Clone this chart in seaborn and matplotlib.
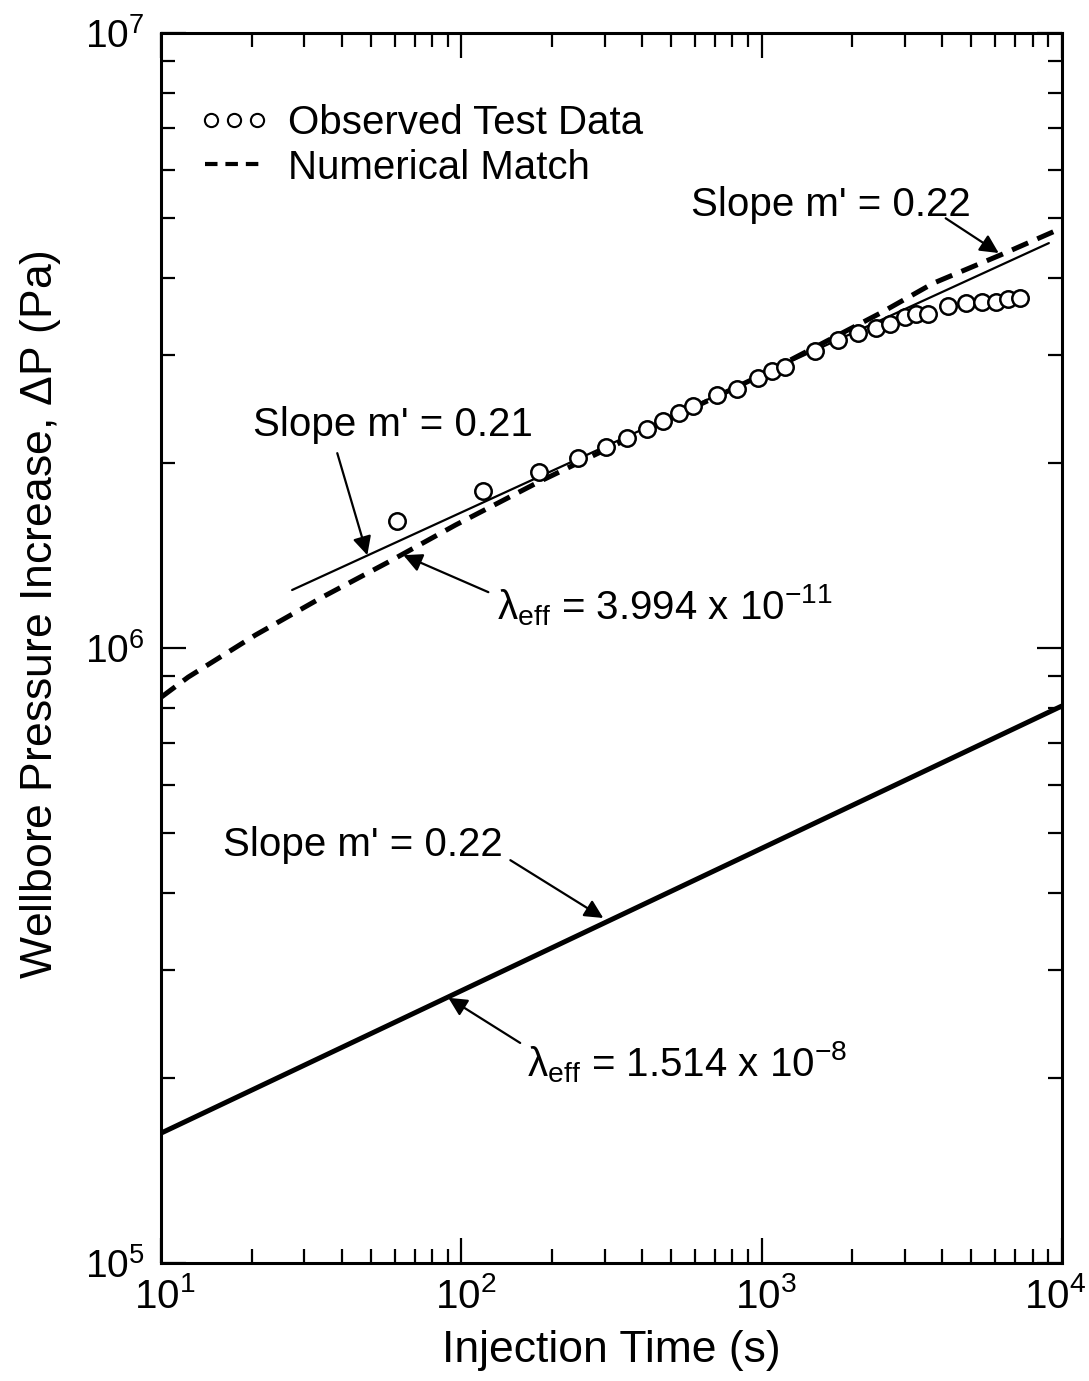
import numpy as np
import pandas as pd
import seaborn as sns
import matplotlib.pyplot as plt
import matplotlib.transforms as mtransforms
from matplotlib.lines import Line2D
from matplotlib.legend_handler import HandlerLine2D
from matplotlib.ticker import LogLocator, NullFormatter

# Observed test data: injection time (s) vs wellbore pressure increase (Pa)
obs_time = [61, 118, 181, 245, 304, 357, 414, 471, 529, 589, 708, 826, 970, 1080, 1193,
            1502, 1792, 2089, 2399, 2671, 2997, 3260, 3575, 4169, 4786, 5412, 6026, 6607, 7244]
obs_dp = [1.61e6, 1.80e6, 1.93e6, 2.04e6, 2.12e6, 2.20e6, 2.27e6, 2.34e6, 2.41e6, 2.48e6,
          2.58e6, 2.64e6, 2.75e6, 2.82e6, 2.87e6, 3.04e6, 3.17e6, 3.25e6, 3.31e6, 3.36e6,
          3.45e6, 3.49e6, 3.50e6, 3.60e6, 3.64e6, 3.65e6, 3.66e6, 3.69e6, 3.71e6]

# Numerical match (lambda_eff = 3.994e-11)
num_time = [10, 12.3, 20.6, 34.4, 57.1, 95.5, 180.6, 313, 1000, 2500, 3730, 6266, 10000]
num_dp = [8.32e5, 8.97e5, 1.05e6, 1.21e6, 1.38e6, 1.585e6, 1.862e6, 2.12e6, 2.78e6,
          3.51e6, 3.92e6, 4.36e6, 4.82e6]

# Straight-line fit through test data (slope 0.21)
fit_time = [27.3, 9057]
fit_dp = [1.243e6, 4.556e6]

# Solution for lambda_eff = 1.514e-8
low_time = [10, 10000]
low_dp = [1.627e5, 8.05e5]

# Axis decades
x_ticks = [10, 100, 1000, 10000]
y_ticks = [1e5, 1e6, 1e7]

sns.set_style("ticks")
plt.rcParams['font.family'] = ['Liberation Sans', 'DejaVu Sans']
plt.rcParams['mathtext.fontset'] = 'custom'
plt.rcParams['mathtext.rm'] = 'Liberation Sans'
plt.rcParams['mathtext.it'] = 'Liberation Sans:italic'
plt.rcParams['mathtext.default'] = 'regular'

fig = plt.figure(figsize=(10.89, 13.81), dpi=100)
ax = fig.add_axes([0.148, 0.0854, 0.827, 0.8906])

sns.lineplot(x=low_time, y=low_dp, ax=ax, color='black', lw=3.6)
sns.lineplot(x=fit_time, y=fit_dp, ax=ax, color='black', lw=1.6)
sns.lineplot(x=num_time, y=num_dp, ax=ax, color='black', lw=3.6,
             linestyle=(0, (3.5, 2)))
sns.scatterplot(x=obs_time, y=obs_dp, ax=ax, s=140, facecolor='white',
                edgecolor='black', linewidth=1.8, zorder=5)

ax.set_xscale('log')
ax.set_yscale('log')
ax.set_xticks(x_ticks)
ax.set_yticks(y_ticks)
ax.set_xlim(10, 1e4)
ax.set_ylim(1e5, 1e7)
ax.xaxis.set_minor_locator(LogLocator(base=10, subs=np.arange(2, 10)))
ax.yaxis.set_minor_locator(LogLocator(base=10, subs=np.arange(2, 10)))
ax.xaxis.set_minor_formatter(NullFormatter())
ax.yaxis.set_minor_formatter(NullFormatter())

for s in ax.spines.values():
    s.set_linewidth(2.2)
    s.set_color('black')
ax.tick_params(which='both', direction='in', top=True, right=True, width=1.6,
               color='black', labelcolor='black')
ax.tick_params(which='major', length=18, pad=12)
ax.tick_params(which='minor', length=10)
ax.tick_params(axis='y', labelsize=28)
ax.tick_params(axis='x', labelsize=29, pad=10)

# nudge x tick labels a little to the right; keep the last one inside the figure
xlabels = ax.get_xticklabels()
for i, lab in enumerate(xlabels):
    dx = -7 if i == len(xlabels) - 1 else 4
    shift = mtransforms.ScaledTranslation(dx / 100, 0, fig.dpi_scale_trans)
    lab.set_transform(lab.get_transform() + shift)

ax.set_xlabel('Injection Time (s)', fontsize=32, color='black', labelpad=10)
ax.set_ylabel('Wellbore Pressure Increase, $\\Delta$P (Pa)', fontsize=32,
              color='black', va='center')
ax.yaxis.set_label_coords(-0.134, 0.527)

# legend
h_obs = Line2D([0], [0], marker='o', ls='none', mfc='white', mec='black', ms=9.5, mew=1.5)
h_num = Line2D([0], [0], color='black', lw=3, linestyle=(0, (3.0, 1.9)),
               dash_capstyle='butt')
leg = ax.legend([h_obs, h_num], ['Observed Test Data', 'Numerical Match'],
                loc='upper left', bbox_to_anchor=(0.0488, 0.942), frameon=False,
                fontsize=29, handlelength=1.45, handletextpad=0.6, labelspacing=0.15,
                borderaxespad=0, borderpad=0,
                handler_map={h_obs: HandlerLine2D(numpoints=3, marker_pad=0.15)})
for t in leg.get_texts():
    t.set_color('black')

arrow = dict(arrowstyle='-|>', lw=1.6, color='black', mutation_scale=28,
             shrinkA=0, shrinkB=0)
txt = dict(fontsize=29, color='black')

ax.text(1698, 5.25e6, "Slope m' = 0.22", ha='center', va='center', **txt)
ax.annotate('', xy=(6166, 4.39e6), xytext=(4105, 5.0e6), arrowprops=arrow)

ax.text(59.3, 2.305e6, "Slope m' = 0.21", ha='center', va='center', **txt)
ax.annotate('', xy=(48.6, 1.416e6), xytext=(38.6, 2.075e6), arrowprops=arrow)

ax.text(131.8, 1.175e6, '$\\lambda_{eff}$ = 3.994 x 10$^{-11}$', ha='left', va='center', **txt)
ax.annotate('', xy=(64.1, 1.416e6), xytext=(123, 1.233e6), arrowprops=arrow)

ax.text(47.1, 4.79e5, "Slope m' = 0.22", ha='center', va='center', **txt)
ax.annotate('', xy=(297, 3.64e5), xytext=(145.6, 4.52e5), arrowprops=arrow)

ax.text(166, 2.12e5, '$\\lambda_{eff}$ = 1.514 x 10$^{-8}$', ha='left', va='center', **txt)
ax.annotate('', xy=(90.5, 2.70e5), xytext=(157, 2.28e5), arrowprops=arrow)

plt.savefig('out.png', dpi=100)
plt.close()
